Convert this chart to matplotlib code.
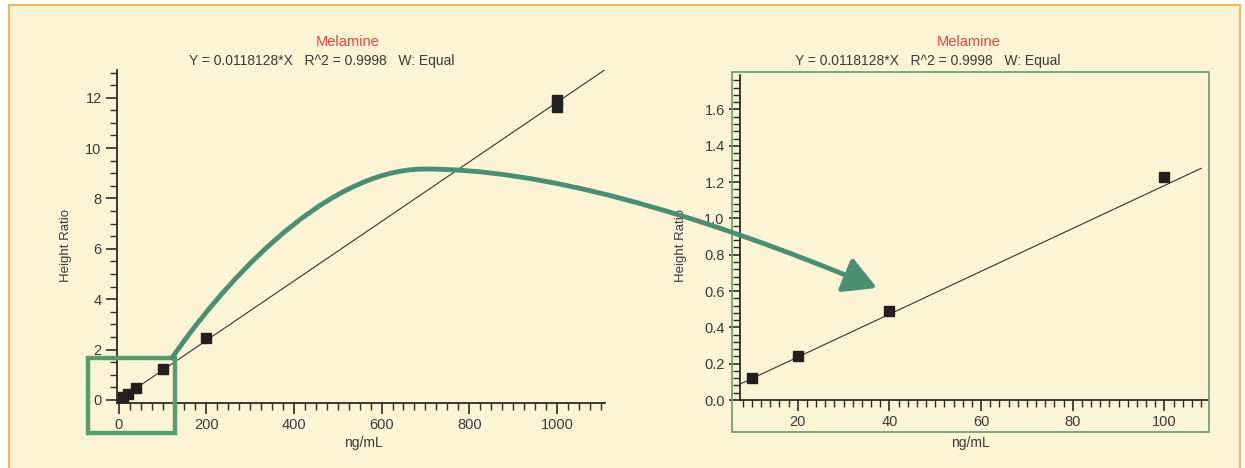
import numpy as np
import matplotlib
matplotlib.use('Agg')
import matplotlib.pyplot as plt
from matplotlib.ticker import MultipleLocator, FormatStrFormatter
from matplotlib.patches import Rectangle, FancyArrowPatch
from matplotlib.path import Path

# calibration data
conc_all = [10, 20, 40, 100, 200, 1000, 1000]
ratio_all = [0.12, 0.24, 0.49, 1.23, 2.45, 11.65, 11.90]
conc_low = [10, 20, 40, 100]
ratio_low = [0.12, 0.24, 0.49, 1.23]
slope = 0.0118128
title = 'Melamine'
equation = 'Y = 0.0118128*X   R^2 = 0.9998   W: Equal'

plt.rcParams['font.family'] = ['Liberation Sans', 'DejaVu Sans']
W, H = 1245, 468
fig = plt.figure(figsize=(W / 100, H / 100), dpi=100)
fig.patch.set_facecolor('white')

def fx(x):
    return x / W

def fy(y):
    return 1 - y / H

cream = '#fdf4d5'
dark = '#2b2b2b'
txt = '#3a3a3a'

# panel background with orange border
fig.patches.append(Rectangle((fx(9), fy(470)), fx(1231), 470 / H - 10 / H + 0.01,
                             transform=fig.transFigure, facecolor=cream,
                             edgecolor='#f7b75c', lw=1.5, zorder=-5))


def style_axes(ax):
    ax.set_facecolor('none')
    for s in ['top', 'right']:
        ax.spines[s].set_visible(False)
    for s in ['left', 'bottom']:
        ax.spines[s].set_color(dark)
        ax.spines[s].set_linewidth(1.3)
    ax.tick_params(which='major', direction='out', length=8, width=1.2, color=dark,
                   labelsize=10.5, labelcolor=txt, pad=3)
    ax.tick_params(which='minor', direction='out', length=5, width=1.0, color=dark)


# left: full range
ax1 = fig.add_axes([fx(117), fy(402.5), 488 / W, 332.5 / H])
style_axes(ax1)
x1 = np.array([0, 1110])
ax1.plot(x1, slope * x1, color='#333333', lw=0.8)
ax1.plot(conc_all, ratio_all, 's', color='#231f20', ms=7.5, clip_on=False, zorder=3)
ax1.set_xlim(-4, 1110)
ax1.set_ylim(-0.1, 13.1)
ax1.xaxis.set_major_locator(MultipleLocator(200))
ax1.xaxis.set_minor_locator(MultipleLocator(25))
ax1.yaxis.set_major_locator(MultipleLocator(2))
ax1.yaxis.set_minor_locator(MultipleLocator(0.5))

# right: low range
ax2 = fig.add_axes([fx(740), fy(400), 468 / W, 325 / H])
style_axes(ax2)
x2 = np.array([7.4, 108])
ax2.plot(x2, slope * x2, color='#333333', lw=0.8)
ax2.plot(conc_low, ratio_low, 's', color='#231f20', ms=7.5, clip_on=False, zorder=3)
ax2.set_xlim(7.4, 109.5)
ax2.set_ylim(0, 1.79)
ax2.xaxis.set_major_locator(MultipleLocator(20))
ax2.xaxis.set_minor_locator(MultipleLocator(2))
ax2.yaxis.set_major_locator(MultipleLocator(0.2))
ax2.yaxis.set_minor_locator(MultipleLocator(0.04))
ax2.yaxis.set_major_formatter(FormatStrFormatter('%.1f'))
ax2.set_yticks([t for t in np.arange(0, 1.61, 0.2)])

# titles and labels
for cx_t, cx_e in [(348, 322), (969, 928)]:
    fig.text(fx(cx_t), fy(42), title, color='#e8453c', fontsize=10.5, ha='center', va='center')
    fig.text(fx(cx_e), fy(61), equation, color=txt, fontsize=10, ha='center', va='center')
for cx in [66, 681]:
    fig.text(fx(cx), fy(245), 'Height Ratio', color=txt, fontsize=9.5, rotation=90,
             ha='center', va='center')
for cx in [363, 970]:
    fig.text(fx(cx), fy(443), 'ng/mL', color=txt, fontsize=10, ha='center', va='center')

# zoom box on left and frame on right
fig.patches.append(Rectangle((fx(88), fy(433)), fx(175 - 88), (433 - 358) / H,
                             transform=fig.transFigure, fill=False,
                             edgecolor='#5a9b6e', lw=3.2, zorder=6))
fig.patches.append(Rectangle((fx(732), fy(432)), fx(1209 - 732), (432 - 72) / H,
                             transform=fig.transFigure, fill=False,
                             edgecolor='#6fa472', lw=1.3, zorder=1))

# curved arrow
pts = [(172, 358), (215, 295), (320, 169), (425, 169),
       (540, 169), (690, 210), (877, 288)]
verts = [(fx(x), fy(y)) for x, y in pts]
codes = [Path.MOVETO] + [Path.CURVE4] * 6
arrow = FancyArrowPatch(path=Path(verts, codes), transform=fig.transFigure,
                        arrowstyle='-|>,head_length=1.0,head_width=0.55',
                        mutation_scale=20, color='#4a8f74', lw=3.5,
                        shrinkA=0, shrinkB=0, zorder=7)
fig.patches.append(arrow)

fig.savefig('out.png', dpi=100)
